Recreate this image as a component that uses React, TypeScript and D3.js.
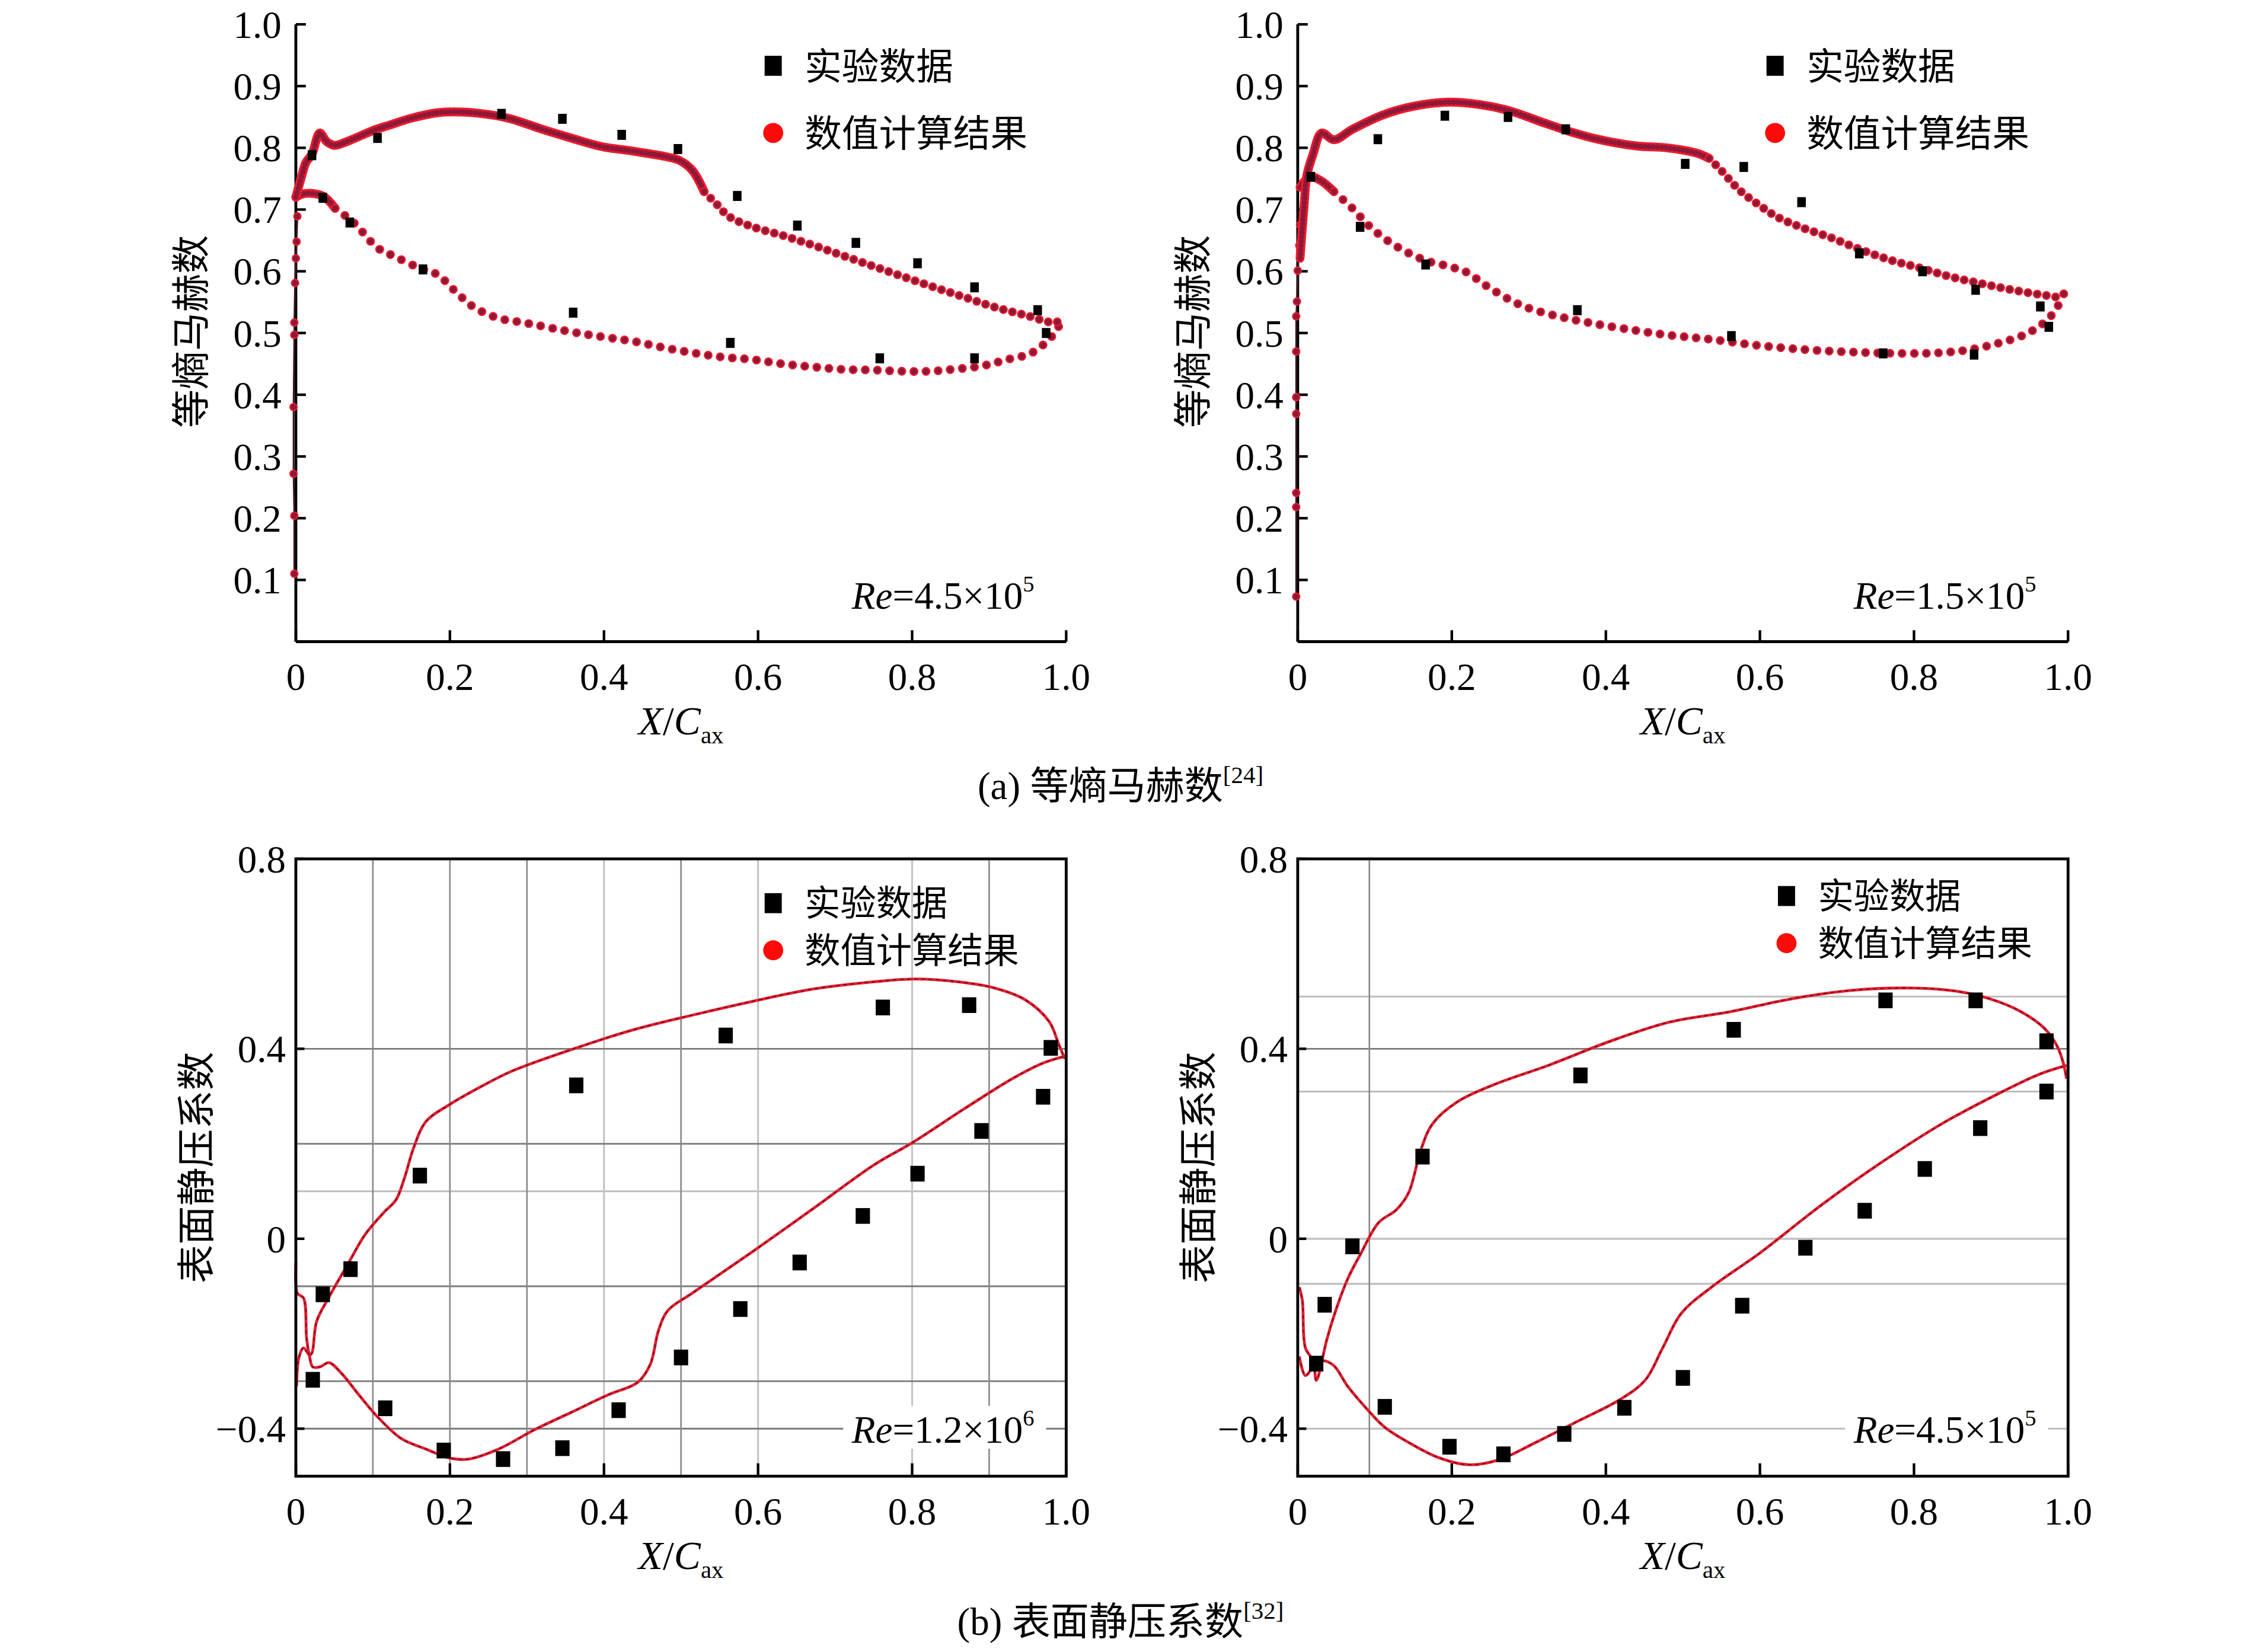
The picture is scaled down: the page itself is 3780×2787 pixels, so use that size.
import * as d3 from "d3";

type Pt = [number, number];

// ---------- (a) isentropic Mach number, Re = 4.5e5 ----------
const machASuction: Pt[] = [
  [0.0, 0.72], [0.008, 0.756], [0.013, 0.776], [0.021, 0.79], [0.031, 0.824], [0.04, 0.81],
  [0.05, 0.804], [0.07, 0.812], [0.1, 0.828], [0.122, 0.837], [0.15, 0.848], [0.185, 0.857],
  [0.216, 0.858], [0.25, 0.854], [0.279, 0.847], [0.32, 0.83], [0.357, 0.816], [0.397, 0.802],
  [0.436, 0.795], [0.483, 0.785], [0.499, 0.779], [0.515, 0.763], [0.53, 0.729], [0.546, 0.709],
  [0.562, 0.689], [0.593, 0.672], [0.632, 0.658], [0.672, 0.642], [0.711, 0.625], [0.75, 0.608],
  [0.789, 0.591], [0.829, 0.574], [0.868, 0.558], [0.907, 0.542], [0.947, 0.529], [0.986, 0.517],
  [0.995, 0.524],
];
const machAPressure: Pt[] = [
  [0.0, 0.72], [0.012, 0.726], [0.035, 0.722], [0.051, 0.702], [0.075, 0.679], [0.106, 0.638],
  [0.13, 0.623], [0.161, 0.605], [0.185, 0.594], [0.2, 0.576], [0.216, 0.557], [0.232, 0.541],
  [0.263, 0.524], [0.295, 0.517], [0.357, 0.502], [0.397, 0.494], [0.436, 0.487], [0.475, 0.477],
  [0.515, 0.468], [0.554, 0.461], [0.593, 0.457], [0.632, 0.45], [0.672, 0.445], [0.711, 0.441],
  [0.75, 0.44], [0.789, 0.438], [0.821, 0.438], [0.852, 0.441], [0.892, 0.447], [0.923, 0.457],
  [0.954, 0.467], [0.978, 0.49], [0.99, 0.51], [0.995, 0.524],
];
const machAStagnation: Pt[] = [
  [-0.002, 0.11], [-0.002, 0.204], [-0.003, 0.272], [-0.003, 0.38], [-0.002, 0.497],
  [-0.002, 0.517], [-0.001, 0.581], [0.0, 0.621], [0.001, 0.648], [0.002, 0.689],
];
const machAExp: Pt[] = [
  [0.021, 0.788], [0.035, 0.719], [0.07, 0.679], [0.106, 0.816], [0.165, 0.603], [0.267, 0.855],
  [0.346, 0.847], [0.36, 0.533], [0.423, 0.821], [0.496, 0.798], [0.564, 0.484], [0.573, 0.722],
  [0.651, 0.674], [0.727, 0.646], [0.758, 0.459], [0.807, 0.613], [0.881, 0.574], [0.881, 0.459],
  [0.963, 0.537], [0.974, 0.5],
];

// ---------- (a) isentropic Mach number, Re = 1.5e5 ----------
const machBSuction: Pt[] = [
  [0.003, 0.621], [0.008, 0.702], [0.012, 0.756], [0.02, 0.79], [0.031, 0.824], [0.047, 0.813],
  [0.071, 0.83], [0.11, 0.853], [0.149, 0.867], [0.196, 0.874], [0.236, 0.87], [0.275, 0.86],
  [0.314, 0.843], [0.354, 0.826], [0.393, 0.813], [0.44, 0.803], [0.479, 0.8], [0.519, 0.791],
  [0.534, 0.783], [0.55, 0.763], [0.573, 0.732], [0.597, 0.709], [0.621, 0.689], [0.652, 0.672],
  [0.691, 0.655], [0.731, 0.635], [0.77, 0.618], [0.809, 0.605], [0.848, 0.591], [0.888, 0.58],
  [0.927, 0.57], [0.966, 0.562], [0.99, 0.559], [0.997, 0.568],
];
const machBPressure: Pt[] = [
  [0.003, 0.736], [0.016, 0.753], [0.031, 0.746], [0.047, 0.729], [0.071, 0.702], [0.094, 0.672],
  [0.126, 0.642], [0.165, 0.618], [0.196, 0.608], [0.22, 0.598], [0.243, 0.578], [0.275, 0.554],
  [0.298, 0.541], [0.338, 0.527], [0.377, 0.517], [0.424, 0.507], [0.479, 0.497], [0.534, 0.49],
  [0.597, 0.48], [0.66, 0.473], [0.723, 0.469], [0.786, 0.467], [0.833, 0.468], [0.872, 0.473],
  [0.911, 0.484], [0.943, 0.497], [0.966, 0.514], [0.982, 0.534], [0.994, 0.561],
];
const machBStagnation: Pt[] = [
  [-0.002, 0.073], [-0.002, 0.218], [-0.002, 0.241], [-0.002, 0.369], [-0.002, 0.396],
  [-0.002, 0.47], [-0.002, 0.527], [-0.001, 0.551], [0.0, 0.601], [0.002, 0.642], [0.003, 0.675],
];
const machBExp: Pt[] = [
  [0.017, 0.753], [0.081, 0.672], [0.104, 0.814], [0.166, 0.611], [0.191, 0.852], [0.273, 0.85],
  [0.348, 0.83], [0.363, 0.537], [0.503, 0.774], [0.563, 0.495], [0.579, 0.769], [0.654, 0.712],
  [0.729, 0.629], [0.76, 0.467], [0.811, 0.6], [0.878, 0.465], [0.88, 0.57], [0.964, 0.543],
  [0.975, 0.51],
];

// ---------- (b) static pressure coefficient, Re = 1.2e6 ----------
const cpASuction: Pt[] = [
  [0.001, -0.31], [0.004, -0.25], [0.01, -0.23], [0.018, -0.245], [0.021, -0.24], [0.027, -0.174],
  [0.043, -0.123], [0.067, -0.055], [0.09, 0.009], [0.114, 0.055], [0.13, 0.082], [0.141, 0.128],
  [0.153, 0.192], [0.169, 0.247], [0.2, 0.283], [0.24, 0.32], [0.279, 0.352], [0.357, 0.398],
  [0.436, 0.439], [0.515, 0.471], [0.593, 0.5], [0.672, 0.526], [0.75, 0.541], [0.805, 0.547],
  [0.86, 0.541], [0.907, 0.528], [0.947, 0.503], [0.978, 0.457], [0.99, 0.411], [0.998, 0.379],
];
const cpAPressure: Pt[] = [
  [0.0, -0.05], [0.002, -0.115], [0.01, -0.125], [0.014, -0.21], [0.018, -0.25], [0.022, -0.27],
  [0.031, -0.27], [0.043, -0.261], [0.059, -0.283], [0.082, -0.329], [0.106, -0.375],
  [0.137, -0.421], [0.169, -0.443], [0.2, -0.462], [0.224, -0.464], [0.263, -0.443],
  [0.31, -0.402], [0.357, -0.366], [0.405, -0.329], [0.444, -0.302], [0.46, -0.265],
  [0.471, -0.192], [0.483, -0.151], [0.515, -0.114], [0.593, -0.027], [0.672, 0.064],
  [0.75, 0.155], [0.801, 0.203], [0.868, 0.274], [0.931, 0.338], [0.97, 0.37], [0.998, 0.384],
];
const cpAExp: Pt[] = [
  [0.022, -0.297], [0.035, -0.117], [0.071, -0.064], [0.116, -0.357], [0.161, 0.133],
  [0.192, -0.446], [0.269, -0.464], [0.346, -0.441], [0.364, 0.323], [0.419, -0.361],
  [0.5, -0.25], [0.558, 0.428], [0.577, -0.148], [0.654, -0.05], [0.736, 0.048], [0.762, 0.487],
  [0.807, 0.137], [0.874, 0.492], [0.89, 0.227], [0.97, 0.299], [0.98, 0.402],
];

// ---------- (b) static pressure coefficient, Re = 4.5e5 ----------
const cpBSuction: Pt[] = [
  [0.002, -0.102], [0.006, -0.13], [0.01, -0.23], [0.02, -0.257], [0.024, -0.298],
  [0.026, -0.293], [0.038, -0.211], [0.05, -0.148], [0.065, -0.084], [0.081, -0.034],
  [0.105, 0.034], [0.128, 0.061], [0.144, 0.097], [0.16, 0.188], [0.175, 0.242], [0.207, 0.288],
  [0.254, 0.324], [0.325, 0.365], [0.404, 0.415], [0.482, 0.456], [0.561, 0.478], [0.64, 0.505],
  [0.718, 0.523], [0.797, 0.528], [0.852, 0.522], [0.899, 0.505], [0.939, 0.478], [0.97, 0.442],
  [0.986, 0.405], [0.994, 0.369], [0.998, 0.337],
];
const cpBPressure: Pt[] = [
  [0.002, -0.248], [0.01, -0.288], [0.02, -0.27], [0.03, -0.257], [0.046, -0.266],
  [0.065, -0.311], [0.089, -0.357], [0.113, -0.397], [0.144, -0.429], [0.183, -0.461],
  [0.223, -0.476], [0.262, -0.465], [0.309, -0.429], [0.364, -0.384], [0.419, -0.338],
  [0.451, -0.298], [0.474, -0.229], [0.498, -0.157], [0.537, -0.102], [0.6, -0.03],
  [0.679, 0.07], [0.758, 0.161], [0.836, 0.242], [0.915, 0.31], [0.962, 0.346], [0.998, 0.365],
];
const cpBExp: Pt[] = [
  [0.024, -0.263], [0.035, -0.139], [0.071, -0.016], [0.113, -0.354], [0.162, 0.173],
  [0.197, -0.438], [0.267, -0.454], [0.346, -0.411], [0.367, 0.344], [0.424, -0.356],
  [0.5, -0.293], [0.566, 0.44], [0.577, -0.141], [0.659, -0.019], [0.736, 0.059], [0.763, 0.502],
  [0.814, 0.147], [0.88, 0.502], [0.886, 0.233], [0.972, 0.416], [0.972, 0.31],
];

// grid lines of the pressure panels (dark / light)
const cpAGridH = [0.4, 0.2, -0.1, -0.3, -0.4];
const cpAGridHLight = [0.1];
const cpAGridV = [0.1, 0.2, 0.3, 0.5, 0.9];
const cpAGridVLight = [0.4, 0.6, 0.8];
const cpBGridH = [0.4];
const cpBGridHLight = [0.51, 0.31, 0, -0.095, -0.4];
const cpBGridV = [0.093];

const xTicks = [0, 0.2, 0.4, 0.6, 0.8, 1.0];
const machTicks = [0.1, 0.2, 0.3, 0.4, 0.5, 0.6, 0.7, 0.8, 0.9, 1.0];
const cpTicks = [0.8, 0.4, 0, -0.4];

const SERIF = '"Liberation Serif", "Times New Roman", serif';
const CJK = '"Noto Sans CJK SC", "Noto Sans CJK JP", sans-serif';
const RED = "#ec1c2e";
const MAROON = "#8e1838";
const W = 539; // plot width in view units

const fmtX = (v: number) => (v === 0 ? "0" : v.toFixed(1));
const fmtCp = (v: number) => (v === 0 ? "0" : v < 0 ? "\u2212" + Math.abs(v).toFixed(1) : v.toFixed(1));

function XTitle({ cx, y }: { cx: number; y: number }) {
  return (
    <text x={cx} y={y} textAnchor="middle" fontFamily={SERIF} fontSize={28}>
      <tspan fontStyle="italic">X</tspan>/<tspan fontStyle="italic">C</tspan>
      <tspan fontSize={17} dy={6}>ax</tspan>
    </text>
  );
}

function ReLabel({ x, y, mant, exp }: { x: number; y: number; mant: string; exp: string }) {
  return (
    <text x={x} y={y} fontFamily={SERIF} fontSize={27}>
      <tspan fontStyle="italic">Re</tspan>={mant}×10
      <tspan fontSize={16} dy={-12}>{exp}</tspan>
    </text>
  );
}

function Legend({ x, y1, y2, size }: { x: number; y1: number; y2: number; size: number }) {
  return (
    <g>
      <rect x={x - 6} y={y1 - 7} width={12} height={14} fill="#000" />
      <text x={x + 22} y={y1} dy="0.36em" fontFamily={CJK} fontSize={size}>实验数据</text>
      <circle cx={x} cy={y2} r={7} fill="#ff0a0a" />
      <text x={x + 22} y={y2} dy="0.36em" fontFamily={CJK} fontSize={size}>数值计算结果</text>
    </g>
  );
}

function DottedCurve(props: { pts: Pt[]; dense: number; gap: number; x: any; y: any }) {
  const { pts, dense, gap, x, y } = props;
  const line = d3
    .line<Pt>()
    .x((d) => x(d[0]))
    .y((d) => y(d[1]))
    .curve(d3.curveCatmullRom.alpha(0.5));
  const idx = Math.max(1, pts.findIndex((p) => p[0] > dense));
  const densePart = pts.slice(0, idx + 1);
  const sparsePart = pts.slice(idx);
  return (
    <g fill="none" strokeLinecap="round" strokeLinejoin="round">
      <path d={line(densePart) ?? ""} stroke={RED} strokeWidth={6.2} />
      <path d={line(densePart) ?? ""} stroke={MAROON} strokeWidth={3.8} strokeDasharray="0 3" />
      <path d={line(sparsePart) ?? ""} stroke={RED} strokeWidth={6.2} strokeDasharray={`0 ${gap}`} />
      <path d={line(sparsePart) ?? ""} stroke={MAROON} strokeWidth={4.3} strokeDasharray={`0 ${gap}`} />
    </g>
  );
}

function MachPanel(props: {
  x0: number;
  suction: Pt[];
  pressure: Pt[];
  stagnation: Pt[];
  exp: Pt[];
  denseS: number;
  denseP: number;
  re: string;
  reExp: string;
}) {
  const { x0, suction, pressure, stagnation, exp } = props;
  const x = d3.scaleLinear().domain([0, 1]).range([x0, x0 + W]);
  const y = d3.scaleLinear().domain([0, 1]).range([449, 17]);
  const stagLine = d3.line<Pt>().x((d) => x(d[0])).y((d) => y(d[1]));
  return (
    <g>
      {/* axes */}
      <line x1={x0} x2={x0} y1={y(1)} y2={y(0)} stroke="#000" strokeWidth={2} />
      <line x1={x0} x2={x0 + W} y1={y(0)} y2={y(0)} stroke="#000" strokeWidth={2} />
      {machTicks.map((t) => (
        <g key={t}>
          <line x1={x0} x2={x0 + 7} y1={y(t)} y2={y(t)} stroke="#000" strokeWidth={1.8} />
          <text x={x0 - 10} y={y(t)} dy="0.35em" textAnchor="end" fontFamily={SERIF} fontSize={27}>
            {t.toFixed(1)}
          </text>
        </g>
      ))}
      {xTicks.map((t) => (
        <g key={t}>
          <line x1={x(t)} x2={x(t)} y1={y(0)} y2={y(0) - 8} stroke="#000" strokeWidth={1.8} />
          <text x={x(t)} y={483} textAnchor="middle" fontFamily={SERIF} fontSize={27}>
            {fmtX(t)}
          </text>
        </g>
      ))}
      <XTitle cx={x0 + W / 2} y={514} />
      <text
        transform={`translate(${x0 - 64},232) rotate(-90)`}
        textAnchor="middle"
        fontFamily={CJK}
        fontSize={27}
      >
        等熵马赫数
      </text>

      {/* numerical results */}
      <path d={stagLine(stagnation) ?? ""} stroke="#3a1822" strokeWidth={1.2} fill="none" />
      {stagnation.map((d, i) => (
        <circle key={i} cx={x(d[0])} cy={y(d[1])} r={2.5} fill={MAROON} stroke={RED} strokeWidth={0.9} />
      ))}
      <DottedCurve pts={pressure} dense={props.denseP} gap={8.5} x={x} y={y} />
      <DottedCurve pts={suction} dense={props.denseS} gap={6.5} x={x} y={y} />

      {/* experiment */}
      {exp.map((d, i) => (
        <rect key={i} x={x(d[0]) - 3} y={y(d[1]) - 3.5} width={6} height={7} fill="#000" />
      ))}

      <Legend x={x0 + 334} y1={46} y2={93} size={26} />
      <ReLabel x={x0 + 389} y={426} mant={props.re} exp={props.reExp} />
    </g>
  );
}

function CpPanel(props: {
  x0: number;
  suction: Pt[];
  pressure: Pt[];
  exp: Pt[];
  gridH: number[];
  gridHLight: number[];
  gridV: number[];
  gridVLight: number[];
  legendX: number;
  legendY: number;
  re: string;
  reExp: string;
}) {
  const { x0, suction, pressure, exp } = props;
  const x = d3.scaleLinear().domain([0, 1]).range([x0, x0 + W]);
  const y = d3.scaleLinear().domain([-0.5, 0.8]).range([1033, 601]);
  const line = d3
    .line<Pt>()
    .x((d) => x(d[0]))
    .y((d) => y(d[1]))
    .curve(d3.curveCatmullRom.alpha(0.5));
  const reX = x0 + 389;
  return (
    <g>
      {/* grid */}
      {props.gridHLight.map((g) => (
        <line key={"hl" + g} x1={x0} x2={x0 + W} y1={y(g)} y2={y(g)} stroke="#bdbdbd" strokeWidth={1.3} />
      ))}
      {props.gridVLight.map((g) => (
        <line key={"vl" + g} x1={x(g)} x2={x(g)} y1={y(0.8)} y2={y(-0.5)} stroke="#c4c4c4" strokeWidth={1.3} />
      ))}
      {props.gridH.map((g) => (
        <line key={"h" + g} x1={x0} x2={x0 + W} y1={y(g)} y2={y(g)} stroke="#7a7a7a" strokeWidth={1.2} />
      ))}
      {props.gridV.map((g) => (
        <line key={"v" + g} x1={x(g)} x2={x(g)} y1={y(0.8)} y2={y(-0.5)} stroke="#8a8a8a" strokeWidth={1.1} />
      ))}

      {/* numerical results */}
      <g fill="none" strokeLinejoin="round">
        <path d={line(suction) ?? ""} stroke={RED} strokeWidth={2} />
        <path d={line(suction) ?? ""} stroke="#5a1a2a" strokeWidth={0.8} strokeDasharray="2.5 2.5" />
        <path d={line(pressure) ?? ""} stroke={RED} strokeWidth={2} />
        <path d={line(pressure) ?? ""} stroke="#5a1a2a" strokeWidth={0.8} strokeDasharray="2.5 2.5" />
      </g>

      {/* experiment */}
      {exp.map((d, i) => (
        <rect key={i} x={x(d[0]) - 5} y={y(d[1]) - 5.5} width={10} height={11} fill="#000" />
      ))}

      {/* frame */}
      <rect x={x0} y={y(0.8)} width={W} height={y(-0.5) - y(0.8)} fill="none" stroke="#000" strokeWidth={2} />
      {cpTicks.map((t) => (
        <g key={t}>
          <line x1={x0} x2={x0 + 6} y1={y(t)} y2={y(t)} stroke="#000" strokeWidth={1.8} />
          <text x={x0 - 7} y={y(t)} dy="0.35em" textAnchor="end" fontFamily={SERIF} fontSize={27}>
            {fmtCp(t)}
          </text>
        </g>
      ))}
      {xTicks.map((t) => (
        <g key={t}>
          <line x1={x(t)} x2={x(t)} y1={y(-0.5)} y2={y(-0.5) - 9} stroke="#000" strokeWidth={1.8} />
          <text x={x(t)} y={1067} textAnchor="middle" fontFamily={SERIF} fontSize={27}>
            {fmtX(t)}
          </text>
        </g>
      ))}
      <XTitle cx={x0 + W / 2} y={1098} />
      <text
        transform={`translate(${x0 - 60},817) rotate(-90)`}
        textAnchor="middle"
        fontFamily={CJK}
        fontSize={27}
      >
        表面静压系数
      </text>

      <Legend x={props.legendX} y1={props.legendY} y2={props.legendY + 33} size={25} />
      <rect x={reX - 6} y={y(-0.4) - 16} width={142} height={30} fill="#fff" />
      <ReLabel x={reX} y={y(-0.4) + 10} mant={props.re} exp={props.reExp} />
    </g>
  );
}

export default function App() {
  return (
    <svg
      width={3780}
      height={2787}
      viewBox="0 0 1568 1156"
      style={{ position: "absolute", left: 0, top: 0, background: "#fff" }}
    >
      <rect x={0} y={0} width={1568} height={1156} fill="#fff" />
      <MachPanel
        x0={207}
        suction={machASuction}
        pressure={machAPressure}
        stagnation={machAStagnation}
        exp={machAExp}
        denseS={0.52}
        denseP={0.05}
        re="4.5"
        reExp="5"
      />
      <MachPanel
        x0={908}
        suction={machBSuction}
        pressure={machBPressure}
        stagnation={machBStagnation}
        exp={machBExp}
        denseS={0.53}
        denseP={0.04}
        re="1.5"
        reExp="5"
      />
      <text x={784} y={559} textAnchor="middle" fontSize={27}>
        <tspan fontFamily={SERIF}>(a) </tspan>
        <tspan fontFamily={CJK}>等熵马赫数</tspan>
        <tspan fontFamily={SERIF} fontSize={17} dy={-11}>[24]</tspan>
      </text>

      <CpPanel
        x0={207}
        suction={cpASuction}
        pressure={cpAPressure}
        exp={cpAExp}
        gridH={cpAGridH}
        gridHLight={cpAGridHLight}
        gridV={cpAGridV}
        gridVLight={cpAGridVLight}
        legendX={541}
        legendY={632}
        re="1.2"
        reExp="6"
      />
      <CpPanel
        x0={908}
        suction={cpBSuction}
        pressure={cpBPressure}
        exp={cpBExp}
        gridH={cpBGridH}
        gridHLight={cpBGridHLight}
        gridV={cpBGridV}
        gridVLight={[]}
        legendX={1250}
        legendY={627}
        re="4.5"
        reExp="5"
      />
      <text x={784} y={1144} textAnchor="middle" fontSize={27}>
        <tspan fontFamily={SERIF}>(b) </tspan>
        <tspan fontFamily={CJK}>表面静压系数</tspan>
        <tspan fontFamily={SERIF} fontSize={17} dy={-11}>[32]</tspan>
      </text>
    </svg>
  );
}
